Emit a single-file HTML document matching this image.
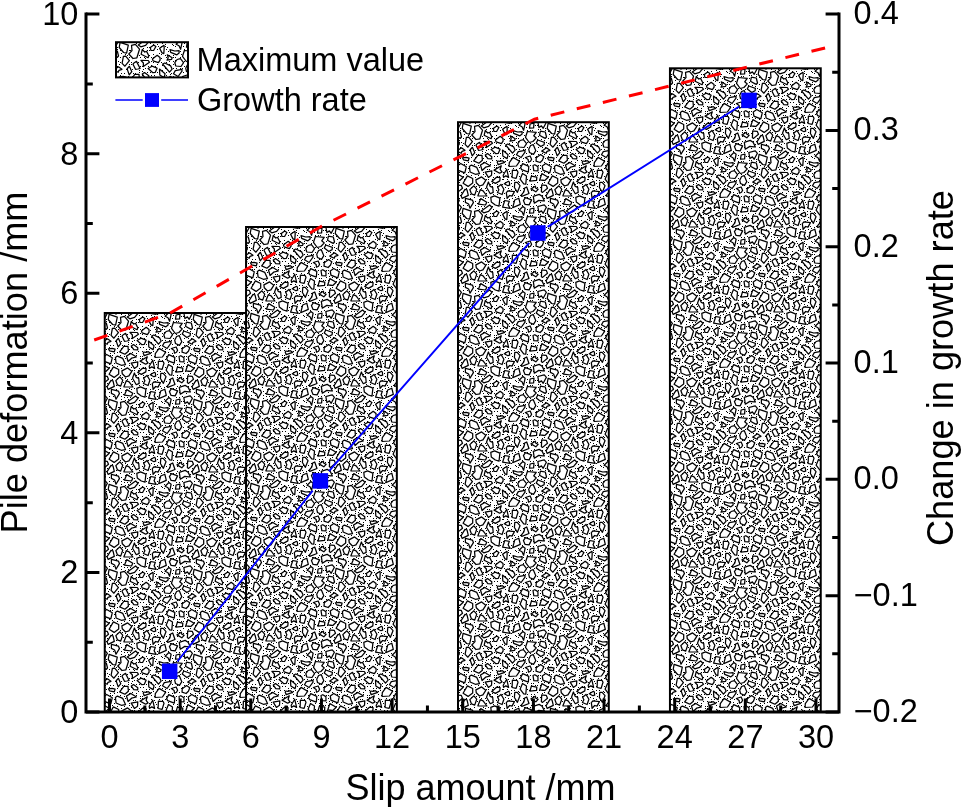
<!DOCTYPE html>
<html><head><meta charset="utf-8"><title>Pile deformation vs slip amount</title>
<style>
html,body{margin:0;padding:0;background:#fff;}
body{width:961px;height:807px;overflow:hidden;}
svg{display:block;}
text{font-family:"Liberation Sans",Arial,Helvetica,sans-serif;fill:#000;}
.tk{font-size:32.5px;}
.tr{font-size:36.2px;}
.tt{font-size:36px;}
</style></head><body>
<svg width="961" height="807" viewBox="0 0 961 807">
<defs>
<pattern id="gravel" patternUnits="userSpaceOnUse" x="0" y="0" width="85" height="85">
<rect x="0" y="0" width="85" height="85" fill="#fff"/>
<path d="M1,18h1v1h-1zM1,32h1v1h-1zM1,40h1v1h-1zM1,50h1v1h-1zM1,60h1v1h-1zM1,76h1v1h-1zM2,6h1v1h-1zM2,8h1v1h-1zM2,25h1v1h-1zM2,36h1v1h-1zM2,73h1v1h-1zM3,20h1v1h-1zM3,70h1v1h-1zM4,23h1v1h-1zM5,9h1v1h-1zM5,16h1v1h-1zM5,21h1v1h-1zM5,34h1v1h-1zM5,51h1v1h-1zM5,54h1v1h-1zM5,69h1v1h-1zM5,79h1v1h-1zM5,83h1v1h-1zM6,12h1v1h-1zM6,32h1v1h-1zM6,40h1v1h-1zM6,42h1v1h-1zM6,57h1v1h-1zM8,42h1v1h-1zM8,52h1v1h-1zM8,66h1v1h-1zM9,32h1v1h-1zM9,83h1v1h-1zM10,13h1v1h-1zM10,40h1v1h-1zM10,46h1v1h-1zM10,50h1v1h-1zM11,28h1v1h-1zM12,14h1v1h-1zM12,43h1v1h-1zM12,72h1v1h-1zM12,76h1v1h-1zM13,35h1v1h-1zM13,39h1v1h-1zM13,53h1v1h-1zM13,65h1v1h-1zM14,9h1v1h-1zM14,16h1v1h-1zM14,23h1v1h-1zM15,9h1v1h-1zM16,21h1v1h-1zM16,23h1v1h-1zM16,42h1v1h-1zM16,62h1v1h-1zM16,75h1v1h-1zM17,1h1v1h-1zM17,28h1v1h-1zM17,35h1v1h-1zM17,55h1v1h-1zM17,79h1v1h-1zM17,83h1v1h-1zM18,32h1v1h-1zM18,57h1v1h-1zM18,64h1v1h-1zM19,69h1v1h-1zM19,81h1v1h-1zM20,32h1v1h-1zM20,43h1v1h-1zM20,53h1v1h-1zM20,84h1v1h-1zM21,2h1v1h-1zM21,20h1v1h-1zM21,45h1v1h-1zM21,65h1v1h-1zM21,77h1v1h-1zM23,21h1v1h-1zM23,66h1v1h-1zM23,84h1v1h-1zM24,1h1v1h-1zM24,14h1v1h-1zM24,29h1v1h-1zM24,31h1v1h-1zM25,16h1v1h-1zM25,25h1v1h-1zM25,36h1v1h-1zM25,40h1v1h-1zM25,50h1v1h-1zM25,52h1v1h-1zM25,75h1v1h-1zM26,84h1v1h-1zM27,25h1v1h-1zM27,30h1v1h-1zM27,34h1v1h-1zM27,54h1v1h-1zM27,66h1v1h-1zM27,76h1v1h-1zM28,7h1v1h-1zM28,28h1v1h-1zM28,39h1v1h-1zM28,57h1v1h-1zM28,68h1v1h-1zM28,71h1v1h-1zM29,16h1v1h-1zM29,47h1v1h-1zM29,49h1v1h-1zM29,62h1v1h-1zM30,17h1v1h-1zM30,27h1v1h-1zM30,57h1v1h-1zM30,75h1v1h-1zM30,80h1v1h-1zM31,47h1v1h-1zM32,6h1v1h-1zM32,9h1v1h-1zM32,31h1v1h-1zM32,40h1v1h-1zM32,42h1v1h-1zM32,62h1v1h-1zM33,25h1v1h-1zM34,6h1v1h-1zM34,9h1v1h-1zM34,14h1v1h-1zM34,38h1v1h-1zM34,57h1v1h-1zM34,61h1v1h-1zM34,64h1v1h-1zM34,84h1v1h-1zM35,2h1v1h-1zM35,31h1v1h-1zM35,55h1v1h-1zM35,72h1v1h-1zM36,16h1v1h-1zM36,20h1v1h-1zM36,24h1v1h-1zM36,34h1v1h-1zM36,43h1v1h-1zM36,45h1v1h-1zM36,51h1v1h-1zM38,3h1v1h-1zM38,13h1v1h-1zM38,16h1v1h-1zM38,21h1v1h-1zM38,38h1v1h-1zM38,43h1v1h-1zM38,45h1v1h-1zM38,68h1v1h-1zM39,34h1v1h-1zM39,54h1v1h-1zM39,62h1v1h-1zM39,64h1v1h-1zM39,72h1v1h-1zM40,25h1v1h-1zM41,54h1v1h-1zM42,3h1v1h-1zM42,8h1v1h-1zM42,23h1v1h-1zM42,31h1v1h-1zM42,36h1v1h-1zM42,38h1v1h-1zM42,75h1v1h-1zM42,83h1v1h-1zM43,5h1v1h-1zM43,80h1v1h-1zM44,12h1v1h-1zM44,57h1v1h-1zM44,62h1v1h-1zM45,36h1v1h-1zM45,50h1v1h-1zM45,57h1v1h-1zM45,79h1v1h-1zM46,5h1v1h-1zM46,13h1v1h-1zM46,17h1v1h-1zM46,21h1v1h-1zM46,71h1v1h-1zM46,76h1v1h-1zM47,2h1v1h-1zM47,24h1v1h-1zM47,29h1v1h-1zM47,39h1v1h-1zM47,42h1v1h-1zM47,46h1v1h-1zM47,60h1v1h-1zM47,65h1v1h-1zM49,38h1v1h-1zM49,57h1v1h-1zM50,3h1v1h-1zM50,5h1v1h-1zM50,14h1v1h-1zM50,27h1v1h-1zM50,43h1v1h-1zM50,47h1v1h-1zM50,66h1v1h-1zM51,8h1v1h-1zM51,16h1v1h-1zM51,21h1v1h-1zM51,31h1v1h-1zM51,34h1v1h-1zM51,49h1v1h-1zM51,68h1v1h-1zM51,77h1v1h-1zM52,6h1v1h-1zM52,51h1v1h-1zM53,1h1v1h-1zM53,10h1v1h-1zM53,36h1v1h-1zM53,54h1v1h-1zM53,58h1v1h-1zM53,61h1v1h-1zM53,67h1v1h-1zM53,83h1v1h-1zM54,14h1v1h-1zM54,20h1v1h-1zM54,23h1v1h-1zM54,64h1v1h-1zM54,76h1v1h-1zM55,33h1v1h-1zM55,46h1v1h-1zM55,79h1v1h-1zM56,32h1v1h-1zM56,58h1v1h-1zM56,73h1v1h-1zM57,3h1v1h-1zM57,68h1v1h-1zM57,75h1v1h-1zM58,4h1v1h-1zM58,14h1v1h-1zM58,16h1v1h-1zM58,20h1v1h-1zM58,23h1v1h-1zM58,27h1v1h-1zM58,35h1v1h-1zM58,47h1v1h-1zM60,1h1v1h-1zM60,5h1v1h-1zM60,16h1v1h-1zM60,19h1v1h-1zM60,59h1v1h-1zM60,74h1v1h-1zM61,27h1v1h-1zM61,36h1v1h-1zM61,38h1v1h-1zM61,46h1v1h-1zM61,54h1v1h-1zM61,60h1v1h-1zM62,43h1v1h-1zM62,68h1v1h-1zM62,73h1v1h-1zM64,39h1v1h-1zM64,49h1v1h-1zM64,83h1v1h-1zM65,10h1v1h-1zM65,16h1v1h-1zM65,27h1v1h-1zM65,36h1v1h-1zM65,66h1v1h-1zM65,69h1v1h-1zM66,13h1v1h-1zM66,75h1v1h-1zM67,27h1v1h-1zM68,5h1v1h-1zM68,31h1v1h-1zM68,40h1v1h-1zM69,2h1v1h-1zM69,8h1v1h-1zM69,20h1v1h-1zM69,25h1v1h-1zM69,42h1v1h-1zM69,51h1v1h-1zM69,57h1v1h-1zM69,62h1v1h-1zM69,75h1v1h-1zM71,58h1v1h-1zM72,8h1v1h-1zM72,21h1v1h-1zM72,43h1v1h-1zM72,47h1v1h-1zM72,75h1v1h-1zM72,84h1v1h-1zM73,32h1v1h-1zM73,51h1v1h-1zM73,53h1v1h-1zM73,62h1v1h-1zM73,64h1v1h-1zM73,68h1v1h-1zM73,73h1v1h-1zM74,8h1v1h-1zM75,39h1v1h-1zM75,51h1v1h-1zM75,64h1v1h-1zM75,79h1v1h-1zM75,84h1v1h-1zM76,21h1v1h-1zM76,62h1v1h-1zM76,72h1v1h-1zM77,3h1v1h-1zM77,35h1v1h-1zM77,53h1v1h-1zM78,34h1v1h-1zM78,83h1v1h-1zM79,3h1v1h-1zM79,17h1v1h-1zM79,29h1v1h-1zM79,53h1v1h-1zM79,60h1v1h-1zM79,65h1v1h-1zM80,7h1v1h-1zM80,10h1v1h-1zM80,14h1v1h-1zM80,25h1v1h-1zM80,32h1v1h-1zM80,43h1v1h-1zM80,50h1v1h-1zM80,72h1v1h-1zM81,58h1v1h-1zM82,7h1v1h-1zM82,43h1v1h-1zM82,46h1v1h-1zM82,53h1v1h-1zM82,65h1v1h-1zM82,80h1v1h-1zM83,17h1v1h-1zM83,49h1v1h-1zM83,83h1v1h-1zM84,25h1v1h-1zM84,28h1v1h-1zM84,31h1v1h-1zM84,61h1v1h-1zM84,73h1v1h-1z" fill="#000"/>
<path d="M63.1,73.3L63.8,74.4L71,71.5L68.7,65L66.7,66L65.9,69.8ZM64.9,-0.5L61.1,3.3L64,4.7L65.6,8.3L67.1,1.3ZM64.9,84.5L61.1,88.3L64,89.7L65.6,93.3L67.1,86.3ZM61.6,39.3L55.1,35.4L51.3,40.6L51.1,44.5L58.4,44ZM34.7,65.4L32.3,64.4L30.4,60L28.5,65.3L32.3,71.7L35.2,70.4ZM37.4,17.9L38.1,19.9L43.4,21.6L45.1,19.1L45,16.6L42.2,14.3ZM80,48.8L79.9,44.6L76.8,42.7L75,43.5L75.8,48.7ZM12.1,50L17.3,52.3L21.5,51.6L18.8,45.4L13.4,43.1L11.4,44.5ZM5.5,37.8L10.3,38.8L11.1,36.1L8.1,35.3L4.4,35.8ZM29.5,31.6L27.3,33.1L29.8,36.7L33.7,36.9L33.8,34.7ZM40.9,5.5L38.7,4L35.3,6.5L35.9,9.3L38.6,9.5ZM-8.7,81.2L-4.2,78.4L1.4,78.9L-0.9,74.2L-3.8,72.4L-9.7,74.4ZM76.3,81.2L80.8,78.4L86.4,78.9L84.1,74.2L81.2,72.4L75.3,74.4ZM44.6,0.2L52.1,1.3L50.1,-2.2L51.3,-5.6L46.8,-6.5ZM44.6,85.2L52.1,86.3L50.1,82.8L51.3,79.4L46.8,78.5ZM-4.1,5.5L-1.6,3.9L0.2,6.3L3.4,0.3L1.3,-2.2L-5.2,-0.5ZM-4.1,90.5L-1.6,88.9L0.2,91.3L3.4,85.3L1.3,82.8L-5.2,84.5ZM80.9,5.5L83.4,3.9L85.2,6.3L88.4,0.3L86.3,-2.2L79.8,-0.5ZM80.9,90.5L83.4,88.9L85.2,91.3L88.4,85.3L86.3,82.8L79.8,84.5ZM19.8,33.3L15.7,38.9L20.9,41.2L24.4,38.3L24,33.4ZM24.9,62.9L27.8,58.3L23.6,54.9L17.9,57.9L18.3,60.8L21.5,64ZM-1.3,62.9L-1.6,69.8L-0.4,70.4L4.5,66.2L3.2,63.3ZM83.7,62.9L83.4,69.8L84.6,70.4L89.5,66.2L88.2,63.3ZM54.5,31.2L57.1,28.1L55.7,24.9L49.8,22L47.6,23ZM1.4,20.4L-5.2,18L-6.7,20.9L-2.2,24.5L1.1,22.7ZM86.4,20.4L79.8,18L78.3,20.9L82.8,24.5L86.1,22.7ZM78.6,58.3L78.8,55.1L73.4,54.1L71.9,59.2ZM71.1,82.9L73.6,77.9L67.5,75.6L65.4,78.6L67.1,82.4ZM66,25.5L68.6,21.6L65.4,17.7L62.1,18.5L59.8,21.7L60.8,25ZM32.8,-9.6L33.3,-5L37.3,-2L41,-0.8L41.9,-8.9L36.5,-11.1ZM32.8,75.4L33.3,80L37.3,83L41,84.2L41.9,76.1L36.5,73.9ZM27.2,50.2L30.4,55.4L33.5,53.3L33.8,48.8ZM48.7,47.2L45.2,53.3L45.6,55.3L47.8,53.9L50.6,55.4ZM9.4,53.9L5.1,61.3L10.1,64.4L14.7,61L14.7,56.5ZM40.2,42.7L46.7,40.3L44.3,38.7L42,39.4L39.9,39L39.2,40ZM55,8.6L55.7,11.3L61.9,13.8L64.1,12.1L64.1,9.7L59.8,10ZM15.4,-4.4L14.4,-6.9L7.4,-8.7L7.4,-4.6L10.6,-3L12,1.2ZM15.4,80.6L14.4,78.1L7.4,76.3L7.4,80.4L10.6,82L12,86.2ZM20.4,82.2L27.5,83L28.8,80.2L22.8,76.6ZM-6.7,35.7L-7,39.2L-2.9,40.5L-0.6,38.2L0.8,34.7L-2.4,32.6ZM78.3,35.7L78,39.2L82.1,40.5L84.4,38.2L85.8,34.7L82.6,32.6ZM56.8,60.3L56.4,65.5L59.4,70.3L62,63.7L59.2,60.4ZM6.8,50.8L8.3,44.7L2.7,41.5L-0.7,44.1L-0.1,48.2ZM91.8,50.8L93.3,44.7L87.7,41.5L84.3,44.1L84.9,48.2ZM4.2,6.5L8.6,11.5L11.6,12.2L13.3,4.1L5.1,1.3ZM69.4,9.5L67.5,15.3L71.3,20.5L74.9,19.5L78.3,15.9L75.7,13.8L78.2,10.3ZM77.8,28.7L75.2,22.6L72.6,23.5L70.7,27.2L71.5,30.5L75.5,32.4ZM23.3,4L25.8,5.8L30.6,4.4L34,0.3L31.6,-2ZM23.3,89L25.8,90.8L30.6,89.4L34,85.3L31.6,83ZM16.5,4.3L17,9.6L13.8,13L18,17.5L21.9,16.8L24.5,8.2L20.4,3.3ZM19.3,21.7L18,23.2L20.5,28.3L22.9,28L25.1,27.5L21.5,20.4ZM25.9,19.3L28.4,22L28.3,25.6L34.5,21.3L33.3,19.5ZM43,62.4L39.6,65.3L40.9,67.7L39.4,70.5L44.1,72.5L45.9,67.3ZM3.1,73.7L4.1,76.4L10.3,73.4L9,67.8L7,67.4ZM54.1,55.5L58.1,56.4L60,50.3L59.1,48.5L54.4,48.1ZM44.5,28.1L44.8,34L49.1,36.6L50.1,32.7ZM64.7,41.6L62.6,45.6L63.7,47.7L70.3,50.1L70.8,44.4ZM19.9,73.8L28.9,74L25.1,68.8L22.3,67.7ZM37,25.2L33.1,27.5L37.9,31.7L40.2,31.5L42.1,27.2ZM8.4,15.4L7.1,22.4L9.9,25.2L14.4,19.7L10.7,15.1ZM49.1,76.3L51.7,73.5L54,74.1L56.4,69.6L50.1,68.8L48.3,70.6ZM63.1,35.5L67,30.1L67,28.4L60.3,29.6L58.5,32.8ZM-3.2,57.8L1.8,58.5L5.2,55.2L-1.1,51.6ZM81.8,57.8L86.8,58.5L90.2,55.2L83.9,51.6ZM57.2,16.8L52.3,13.8L53.2,16.8L52,19.2L56.5,18.4ZM46.3,61.8L49.9,63.7L51.7,63.2L51.3,60L50.4,59.3ZM41.8,58.9L42.1,55.7L38.5,55.2L33.8,59.5L37.4,61.4ZM65.7,61.8L67.8,62.1L68.5,54L64.5,51.5L62.1,57.2ZM14.4,25.3L12.1,27.7L14.2,33.9L16.8,30.7ZM49,4.3L44.6,7.3L47,11.9L48.8,12.6L49.2,6.9ZM54.7,0.7L62.3,-2.6L60.8,-8.8L56.7,-7ZM54.7,85.7L62.3,82.4L60.8,76.2L56.7,78ZM-1.2,29.1L3.2,31.3L4,29.3L7,28.3L3.4,25.8ZM83.8,29.1L88.2,31.3L89,29.3L92,28.3L88.4,25.8ZM72.1,2L71.5,6.1L75.6,5.9L76,1.1ZM77.4,64.2L73,66.9L77.8,69.8L80.1,67.3L77.8,66.2ZM27.3,8.5L26.1,13.3L33.1,16.7L33.8,14.7L31.6,10.4L29.7,11ZM36.1,48.1L41.7,51.2L44,49.9L42.1,47.4L43.3,43.8ZM18.7,67.2L15.9,63.8L11.8,67.6L13.5,71.9L16.7,73.1ZM-2.6,9.2L-3.5,13.3L2.3,16.4L3.5,15L2.3,10ZM82.4,9.2L81.5,13.3L87.3,16.4L88.5,15L87.3,10ZM67.4,35.5L70.1,37.4L70.5,40.2L72.5,39.3L73.6,37.2L72.1,34ZM22.5,43L24.1,48.5L27.6,45.2L32.4,44L26.9,40.4Z" fill="#fff" stroke="#000" stroke-width="1.25" stroke-linejoin="round"/>
</pattern>
</defs>
<rect width="961" height="807" fill="#fff"/>
<g transform="translate(104,313)"><rect x="0.75" y="0.00" width="150.8" height="399.0" fill="url(#gravel)" stroke="#000" stroke-width="2"/></g>
<g transform="translate(246,227)"><rect x="0.05" y="0.00" width="150.8" height="485.0" fill="url(#gravel)" stroke="#000" stroke-width="2"/></g>
<g transform="translate(458,122)"><rect x="0.00" y="0.20" width="150.8" height="589.8" fill="url(#gravel)" stroke="#000" stroke-width="2"/></g>
<g transform="translate(669,68)"><rect x="0.95" y="0.30" width="150.8" height="643.7" fill="url(#gravel)" stroke="#000" stroke-width="2"/></g>
<g stroke="#000" stroke-width="3" fill="none" stroke-linecap="butt">
<path d="M86.0,12.6V713.5M84.5,712.0H840.5M839.0,12.6V713.5"/>
<path d="M86.0,712.00h13.4M86.0,642.21h6.8M86.0,572.42h13.4M86.0,502.63h6.8M86.0,432.84h13.4M86.0,363.05h6.8M86.0,293.26h13.4M86.0,223.47h6.8M86.0,153.68h13.4M86.0,83.89h6.8M86.0,14.10h13.4M839.0,712.00h-13.4M839.0,653.84h-6.8M839.0,595.68h-13.4M839.0,537.52h-6.8M839.0,479.37h-13.4M839.0,421.21h-6.8M839.0,363.05h-13.4M839.0,304.89h-6.8M839.0,246.73h-13.4M839.0,188.58h-6.8M839.0,130.42h-13.4M839.0,72.26h-6.8M839.0,14.10h-13.4M109.50,712.0v-13.5M144.82,712.0v-6.6M180.15,712.0v-13.5M215.48,712.0v-6.6M250.80,712.0v-13.5M286.12,712.0v-6.6M321.45,712.0v-13.5M356.77,712.0v-6.6M392.10,712.0v-13.5M427.43,712.0v-6.6M462.75,712.0v-13.5M498.07,712.0v-6.6M533.40,712.0v-13.5M568.73,712.0v-6.6M604.05,712.0v-13.5M639.38,712.0v-6.6M674.70,712.0v-13.5M710.02,712.0v-6.6M745.35,712.0v-13.5M780.68,712.0v-6.6M816.00,712.0v-13.5"/>
</g>
<path d="M94.2,340L169.7,313.3L321.5,226.3L534.5,119.2L826,47.7" fill="none" stroke="#ff0000" stroke-width="3" stroke-dasharray="14 12.85"/>
<path d="M177.4,661.5L312.7,490.6M329.0,471.1L529.3,242.8M547.6,226.9L739.2,106.5" fill="none" stroke="#0000ff" stroke-width="1.9"/>
<rect x="161.90" y="663.55" width="15.5" height="15.5" fill="#0000ff"/>
<rect x="312.65" y="473.15" width="15.5" height="15.5" fill="#0000ff"/>
<rect x="530.15" y="225.25" width="15.5" height="15.5" fill="#0000ff"/>
<rect x="741.25" y="92.65" width="15.5" height="15.5" fill="#0000ff"/>
<g transform="translate(115,41)"><rect x="1" y="1.2" width="72" height="35.2" fill="url(#gravel)" stroke="#000" stroke-width="2"/></g>
<path d="M115.4,100H142.7M161.2,100H188" stroke="#0000ff" stroke-width="1.6" fill="none"/>
<rect x="145" y="93.1" width="14" height="13.8" fill="#0000ff"/>
<text class="tk" x="196.6" y="70.5">Maximum value</text>
<text class="tk" x="197" y="110.5">Growth rate</text>
<text class="tk" x="78.4" y="722.8" text-anchor="end">0</text>
<text class="tk" x="78.4" y="583.2" text-anchor="end">2</text>
<text class="tk" x="78.4" y="443.6" text-anchor="end">4</text>
<text class="tk" x="78.4" y="304.1" text-anchor="end">6</text>
<text class="tk" x="78.4" y="164.5" text-anchor="end">8</text>
<text class="tk" x="78.4" y="24.9" text-anchor="end">10</text>
<text class="tk" x="853.6" y="722.0">−0.2</text>
<text class="tk" x="853.6" y="605.7">−0.1</text>
<text class="tk" x="853.6" y="489.4">0.0</text>
<text class="tk" x="853.6" y="373.0">0.1</text>
<text class="tk" x="853.6" y="256.7">0.2</text>
<text class="tk" x="853.6" y="140.4">0.3</text>
<text class="tk" x="853.6" y="24.1">0.4</text>
<text class="tk" x="109.5" y="747.6" text-anchor="middle">0</text>
<text class="tk" x="180.2" y="747.6" text-anchor="middle">3</text>
<text class="tk" x="250.8" y="747.6" text-anchor="middle">6</text>
<text class="tk" x="321.5" y="747.6" text-anchor="middle">9</text>
<text class="tk" x="392.1" y="747.6" text-anchor="middle">12</text>
<text class="tk" x="462.8" y="747.6" text-anchor="middle">15</text>
<text class="tk" x="533.4" y="747.6" text-anchor="middle">18</text>
<text class="tk" x="604.0" y="747.6" text-anchor="middle">21</text>
<text class="tk" x="674.7" y="747.6" text-anchor="middle">24</text>
<text class="tk" x="745.4" y="747.6" text-anchor="middle">27</text>
<text class="tk" x="816.0" y="747.6" text-anchor="middle">30</text>
<text class="tt" x="480.5" y="799.6" text-anchor="middle">Slip amount /mm</text>
<text class="tr" transform="translate(26.9,533.4) rotate(-90)">Pile deformation /mm</text>
<text class="tr" transform="translate(953.3,546.1) rotate(-90)">Change in growth rate</text>
</svg>
</body></html>
